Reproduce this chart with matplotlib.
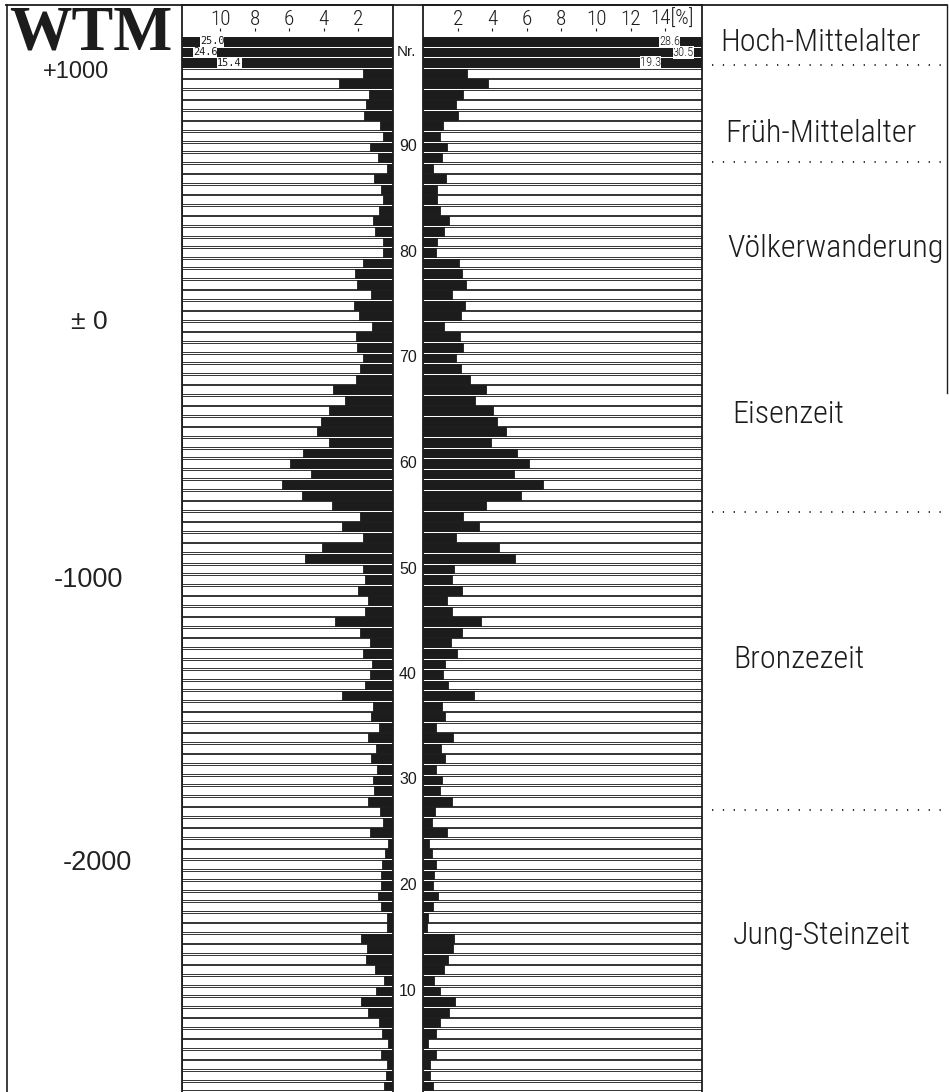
import os
import matplotlib
matplotlib.use('Agg')
import matplotlib.pyplot as plt
import matplotlib.transforms as mtransforms
from matplotlib import font_manager as fm
from matplotlib.lines import Line2D

W, H, DPI = 949, 1092, 100

# ---------------- data ----------------
rows = list(range(1, 101))
left_pct = [0.52, 0.41, 0.37, 0.70, 0.29, 0.66, 0.83, 1.43, 1.86, 0.97,
            0.54, 1.05, 1.57, 1.53, 1.84, 0.35, 0.35, 0.68, 0.87, 0.72,
            0.68, 0.62, 0.48, 0.31, 1.32, 0.58, 0.76, 1.47, 1.12, 1.14,
            0.93, 1.26, 1.01, 1.43, 0.79, 1.26, 1.14, 2.93, 1.59, 1.32,
            1.23, 1.74, 1.34, 1.92, 3.37, 1.59, 1.47, 2.03, 1.63, 1.72,
            5.06, 4.13, 1.74, 2.95, 1.88, 3.55, 5.25, 6.43, 4.73, 5.97,
            5.20, 3.70, 4.40, 4.17, 3.68, 2.75, 3.45, 2.13, 1.92, 1.74,
            2.07, 2.11, 1.20, 1.96, 2.25, 1.26, 2.09, 2.17, 1.74, 0.58,
            0.60, 1.05, 1.16, 0.83, 0.56, 0.70, 1.10, 0.35, 0.85, 1.32,
            0.58, 0.76, 1.67, 1.57, 1.36, 3.10, 1.71, 15.4, 24.6, 25.0]
right_pct = [0.56, 0.43, 0.39, 0.78, 0.31, 0.74, 0.99, 1.51, 1.84, 0.99,
             0.66, 1.22, 1.43, 1.72, 1.80, 0.23, 0.29, 0.58, 0.85, 0.56,
             0.63, 0.74, 0.52, 0.33, 1.41, 0.52, 0.68, 1.69, 0.97, 1.07,
             0.76, 1.28, 1.05, 1.76, 0.76, 1.26, 1.07, 2.97, 1.47, 1.14,
             1.30, 1.96, 1.63, 2.23, 3.37, 1.67, 1.41, 2.25, 1.67, 1.82,
             5.31, 4.40, 1.90, 3.22, 2.34, 3.66, 5.68, 6.96, 5.25, 6.12,
             5.42, 3.93, 4.81, 4.30, 4.05, 3.00, 3.62, 2.71, 2.19, 1.92,
             2.33, 2.15, 1.22, 2.19, 2.42, 1.69, 2.50, 2.23, 2.07, 0.78,
             0.79, 1.24, 1.49, 0.99, 0.79, 0.79, 1.32, 0.56, 1.09, 1.41,
             0.99, 1.16, 2.00, 1.92, 2.33, 3.78, 2.54, 19.3, 30.5, 28.6]

left_ticks = [10, 8, 6, 4, 2]
right_ticks = [2, 4, 6, 8, 10, 12, 14]
row_labels = [90, 80, 70, 60, 50, 40, 30, 20, 10]
epoch_labels = ['+1000', '\u00b1 0', '-1000', '-2000']
epoch_rows = [97.1, 73.4, 49.0, 22.1]
period_labels = ['Hoch-Mittelalter', 'Fr\u00fch-Mittelalter', 'V\u00f6lkerwanderung',
                 'Eisenzeit', 'Bronzezeit', 'Jung-Steinzeit']
period_rows = [99.9, 91.3, 80.4, 64.6, 41.4, 15.3]
period_bounds = [97.8, 88.6, 55.4, 27.2]

# ---------------- layout (pixels) ----------------
TOP = 5
L_LEFT, L_RIGHT = 182, 393
R_LEFT, R_RIGHT = 423, 702
PX_PER_UNIT = 17.3
ROW_PX = 10.55
ROW100_Y = 41.5


def pick_condensed():
    prefs = ['roboto', 'noto sans', 'dejavu sans', 'liberation sans', 'open sans']
    best, best_score = None, 1e9
    for f in fm.fontManager.ttflist:
        fn = os.path.basename(f.fname).lower()
        nm = f.name.lower()
        st = str(f.stretch).lower()
        tag = fn + ' ' + nm + ' ' + st
        if not ('condensed' in tag or 'narrow' in tag):
            continue
        if f.style != 'normal' or 'italic' in fn or 'oblique' in fn or 'mono' in tag:
            continue
        if 'serif' in tag and 'sans' not in tag:
            continue
        fam = next((i for i, p in enumerate(prefs)
                    if p in nm or p.replace(' ', '') in fn), len(prefs))
        w = f.weight
        if isinstance(w, str):
            w = fm.weight_dict.get(w, 400)
        extra = 2 if ('extracondensed' in fn or 'extra-condensed' in st
                      or 'ultra' in tag) else 0
        semi = 1 if ('semicondensed' in fn or 'semi-condensed' in st) else 0
        score = fam * 10 + extra + semi + abs(w - 320) / 100
        if score < best_score:
            best, best_score = f, score
    return best


bestf = pick_condensed()
if bestf is not None:
    cond_fp = fm.FontProperties(fname=bestf.fname)
else:
    cond_fp = fm.FontProperties(family='DejaVu Sans')

fig = plt.figure(figsize=(W / DPI, H / DPI), dpi=DPI)
fig.patch.set_facecolor('white')

axL = fig.add_axes([L_LEFT / W, 0, (L_RIGHT - L_LEFT) / W, (H - TOP) / H])
axR = fig.add_axes([R_LEFT / W, 0, (R_RIGHT - R_LEFT) / W, (H - TOP) / H])
axL.set_xlim((L_RIGHT - L_LEFT) / PX_PER_UNIT, 0)
axR.set_xlim(0, (R_RIGHT - R_LEFT) / PX_PER_UNIT)
ylo = 100 - (H - ROW100_Y) / ROW_PX
yhi = 100 + (ROW100_Y - TOP) / ROW_PX

for ax, vals in ((axL, left_pct), (axR, right_pct)):
    ax.set_ylim(ylo, yhi)
    xmax = max(ax.get_xlim())
    ax.barh(rows, [xmax] * len(rows), height=0.84, color='white',
            edgecolor='#333333', linewidth=0.7)
    ax.barh(rows, vals, height=0.84, color='#1c1c1c', edgecolor='#1c1c1c',
            linewidth=0.6)
    ax.set_xticks([])
    ax.set_yticks([])
    ax.spines['bottom'].set_visible(False)
    for s in ('left', 'right', 'top'):
        ax.spines[s].set_linewidth(1.3)
        ax.spines[s].set_color('#1c1c1c')

# over-range value labels (top rows)
left_over_x = [9.45, 10.87, 10.46]     # rows 98, 99, 100
right_over_x = [13.15, 15.05, 14.25]
over_texts = []
for i, r in enumerate(rows[-3:]):
    v = left_pct[r - 1]
    axL.text(left_over_x[i], r, f'{v:.1f}', ha='center', va='center',
             family='DejaVu Sans Mono', fontsize=7.4, color='#1c1c1c',
             bbox=dict(boxstyle='square,pad=0.0', fc='white', ec='none'))
    v = right_pct[r - 1]
    t = axR.text(right_over_x[i], r, f'{v:.1f}', ha='center', va='center',
                 fontproperties=cond_fp, color='#1c1c1c',
                 bbox=dict(boxstyle='square,pad=0.0', fc='white', ec='none'))
    t.set_fontsize(9)
    over_texts.append(t)

# top scale ticks
tick_texts = []
for ax, ticks in ((axL, left_ticks), (axR, right_ticks)):
    ax.vlines(ticks, 100.95, 101.3, color='#1c1c1c', lw=0.8)
    for j, tv in enumerate(ticks):
        if ax is axR and j == len(ticks) - 1:
            t = ax.text(tv - 0.85, 102.1, f'{tv}[%]', ha='left', va='center',
                        fontproperties=cond_fp, color='#1c1c1c',
                        clip_on=False)
        else:
            t = ax.text(tv, 102.1, str(tv), ha='center', va='center',
                        fontproperties=cond_fp, color='#1c1c1c',
                        clip_on=False)
        tick_texts.append(t)

# row numbers in the middle strip
trans = mtransforms.blended_transform_factory(fig.transFigure, axR.transData)
mid_x = (L_RIGHT + R_LEFT) / 2 / W
axR.text(mid_x - 0.002, 99, 'Nr.', transform=trans, ha='center', va='center',
         family='Liberation Sans', fontsize=11, color='#1c1c1c', clip_on=False)
for r in row_labels:
    axR.text(mid_x, r, str(r), transform=trans, ha='center', va='center',
             family='Liberation Sans', fontsize=11.5, color='#1c1c1c',
             clip_on=False)

# time axis on the left
epoch_x = [76, 89, 88, 97]
epoch_sizes = [17, 19, 19.5, 19.5]
for lab, r, xp, fs in zip(epoch_labels, epoch_rows, epoch_x, epoch_sizes):
    axR.text(xp / W, r, lab, transform=trans, ha='center', va='center',
             family='Liberation Sans', fontsize=fs, color='#222222',
             clip_on=False)

# period labels on the right
period_x = [720, 725, 727, 732, 733, 733]
period_texts = []
for lab, r, xp in zip(period_labels, period_rows, period_x):
    t = axR.text(xp / W, r, lab, transform=trans, ha='left', va='center',
                 fontproperties=cond_fp, color='#1c1c1c', clip_on=False)
    t.set_fontsize(22)
    period_texts.append(t)
for b in period_bounds:
    axR.plot([712 / W, 942 / W], [b, b], transform=trans, color='#1c1c1c',
             lw=1.3, linestyle=(0, (0.7, 5.3)), clip_on=False,
             solid_capstyle='butt', dash_capstyle='butt')

# frame lines
fig.add_artist(Line2D([6 / W, 947 / W], [1 - TOP / H, 1 - TOP / H],
                      transform=fig.transFigure, color='#1c1c1c', lw=1.3))
fig.add_artist(Line2D([7 / W, 7 / W], [1 - TOP / H, 0],
                      transform=fig.transFigure, color='#1c1c1c', lw=1.2))
fig.add_artist(Line2D([947 / W, 947 / W], [1 - TOP / H, 1 - 393 / H],
                      transform=fig.transFigure, color='#1c1c1c', lw=1.0))

fig.text(91 / W, 1 - 34 / H, 'WTM', ha='center', va='center',
         family='Liberation Serif', fontweight='bold', fontsize=45,
         color='#1c1c1c')

# fit condensed font size to the reference label width
fig.canvas.draw()
renderer = fig.canvas.get_renderer()
bb = period_texts[0].get_window_extent(renderer)
scale = 200.0 / bb.width
base = 22 * scale
for t in period_texts:
    t.set_fontsize(base)
for t in tick_texts:
    t.set_fontsize(base * 0.66)
for t in over_texts:
    t.set_fontsize(base * 0.39)

fig.savefig('out.png', dpi=DPI, facecolor='white')
